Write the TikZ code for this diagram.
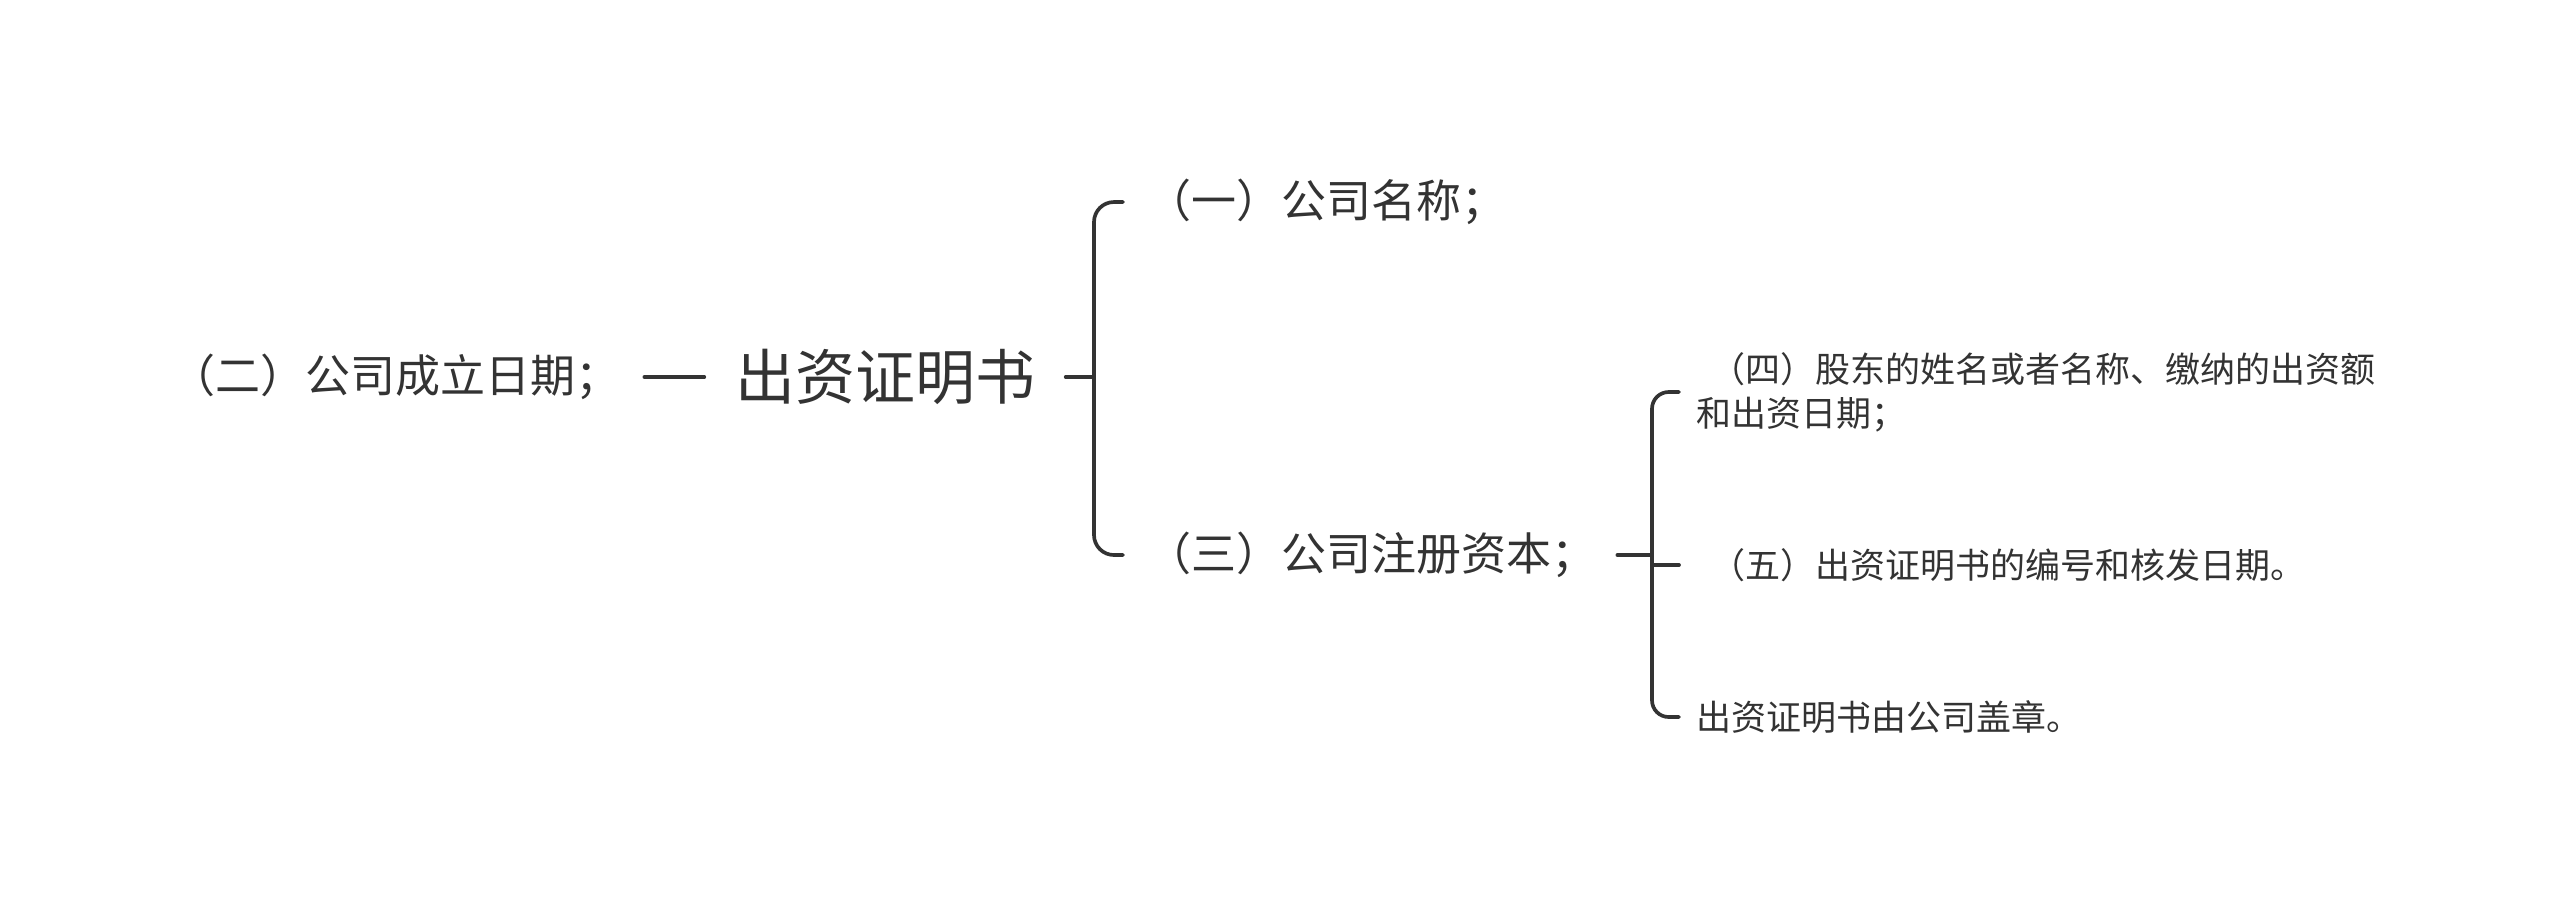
\documentclass[tikz,border=0pt]{standalone}
\usepackage{fontspec}
\setmainfont{Noto Sans CJK SC}
\usetikzlibrary{positioning}
\definecolor{ink}{HTML}{333333}
\begin{document}
\begin{tikzpicture}[x=0.3pt,y=-0.3pt,line join=round,line cap=round,color=ink,text=ink,
	br/.style={line width=1.1pt,rounded corners=6pt},
	topic/.style={inner ysep=0pt,inner xsep=9pt,font=\fontsize{18pt}{22pt}\selectfont},
	sub/.style={anchor=west,inner ysep=0pt,inner xsep=3.6pt,font=\fontsize{13.5pt}{16pt}\selectfont},
	leaf/.style={anchor=west,inner ysep=0pt,inner xsep=5.1pt,align=left,font=\fontsize{10.5pt}{13.2pt}\selectfont}]
		\useasboundingbox (0,0) rectangle (2560,908);
		\node[topic] (root) at (885,377) {出资证明书};
		\node[sub,anchor=east,inner xsep=6.9pt,left=18pt of root] (n2) {（二）公司成立日期；};
		\draw[br] (n2) -- (root);
		\coordinate (f1) at (1094,377);
		\node[sub] (n1) at (1134,202) {（一）公司名称；};
		\node[sub] (n3) at (1134,555) {（三）公司注册资本；};
		\draw[br] (root) -- (f1);
		\draw[br,shorten <=3.3pt,shorten >=3.3pt] (n1.west) -| (f1) |- (n3.west);
		\coordinate (f2) at (1652,555);
		\node[leaf] (l4) at (1679,392) {\hspace{4pt}（四）股东的姓名或者名称、缴纳的出资额\\和出资日期；};
		\node[leaf] (l5) at (1679,565) {\hspace{4pt}（五）出资证明书的编号和核发日期。};
		\node[leaf] (l6) at (1679,717) {出资证明书由公司盖章。};
		\draw[br,shorten <=2.4pt] (n3.east) -- (f2);
		\draw[br,rounded corners=5pt] (l4.west) -| (f2) |- (l6.west);
		\draw[br] (f2 |- l5.west) -- (l5.west);
\end{tikzpicture}
\end{document}
